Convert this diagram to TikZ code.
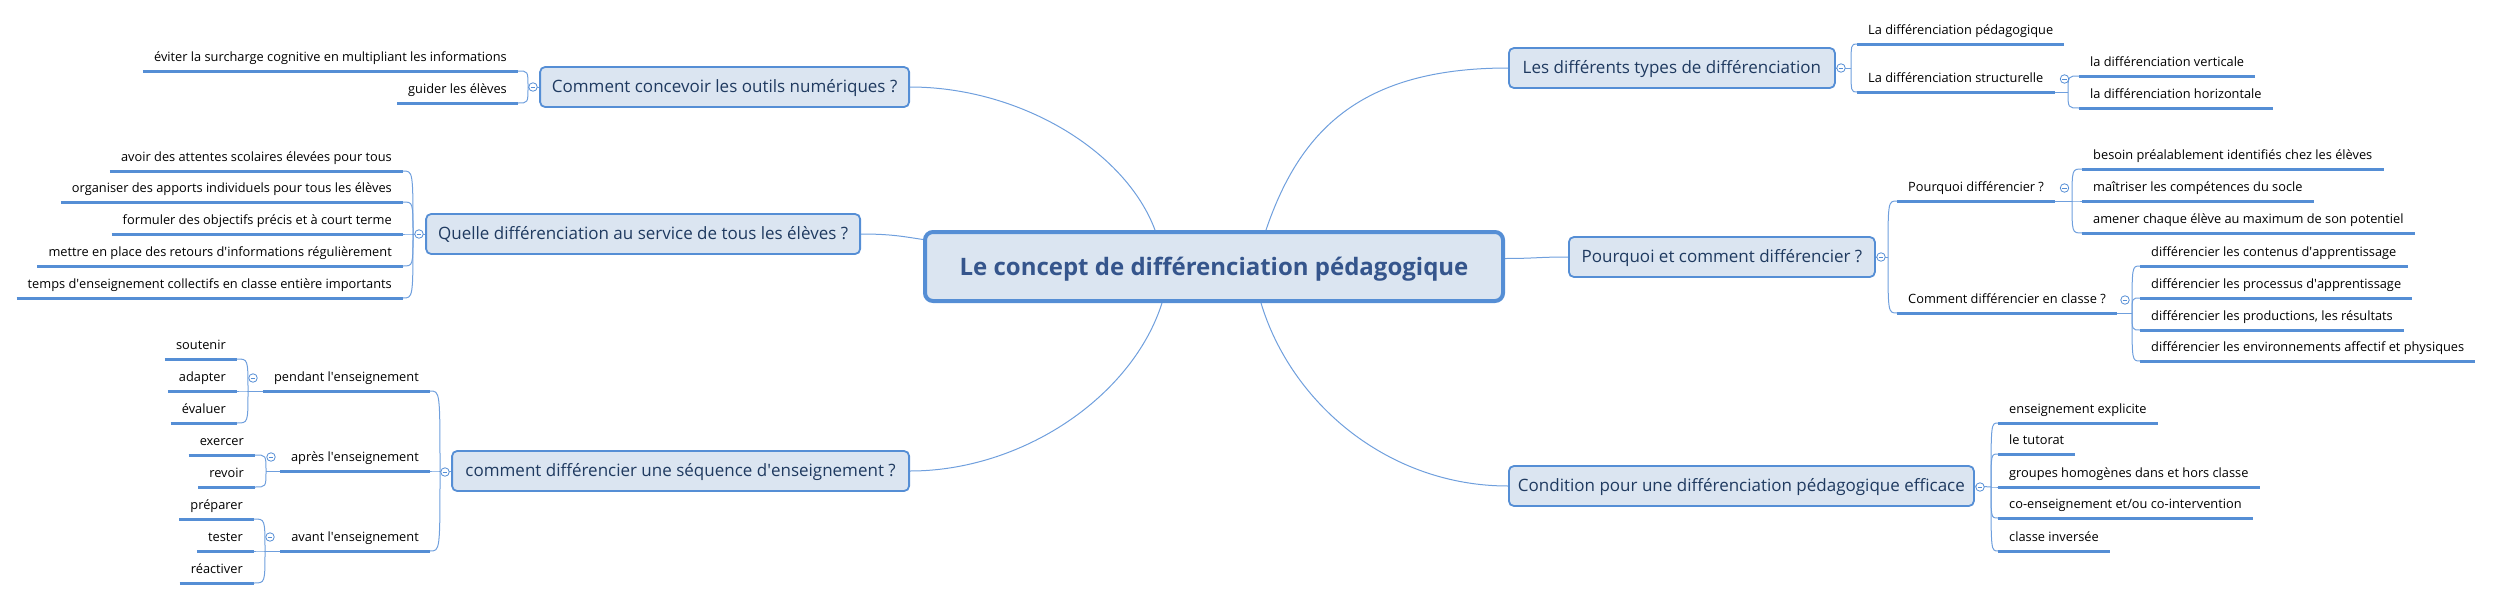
\documentclass[tikz,border=0pt]{standalone}
\usepackage{fontspec}
\setmainfont{Open Sans}
\usetikzlibrary{backgrounds}

\definecolor{mapblue}{HTML}{558ED5}
\definecolor{mapfill}{HTML}{DBE5F1}
\definecolor{mapline}{HTML}{6F9FDD}
\definecolor{roottext}{HTML}{35558C}
\definecolor{topictext}{HTML}{1F3A60}

\newcommand{\leaffont}{\fontsize{12.8}{15}\selectfont}
\newcommand{\topicfont}{\fontsize{17}{20}\selectfont}
\newcommand{\rootfont}{\fontsize{24}{28}\selectfont\bfseries}
\newcommand{\apos}{\textquotesingle}

\tikzset{
  rootbox/.style={draw=mapblue, line width=4pt, fill=mapfill, rounded corners=8pt,
    minimum width=578pt, minimum height=69pt, font=\rootfont, text=roottext,
    text height=17pt, text depth=0pt},
  topicbox/.style={draw=mapblue, line width=1.8pt, fill=mapfill, rounded corners=5pt,
    minimum height=40pt, inner xsep=6pt, font=\topicfont, text=topictext,
    text height=11.5pt, text depth=0pt},
  leaf/.style={font=\leaffont, inner xsep=11pt, inner ysep=6pt,
    text height=9.5pt, text depth=3.5pt},
  uline/.style={mapblue, line width=3pt},
  branch/.style={mapline, line width=1pt},
  knob/.style={circle, draw=mapblue, fill=white, line width=0.8pt, minimum size=8.5pt,
    inner sep=0pt, path picture={\draw[mapblue, line width=0.8pt]
      ([xshift=-2.4pt]path picture bounding box.center) --
      ([xshift=2.4pt]path picture bounding box.center);}}
}

\begin{document}
\begin{tikzpicture}[x=1pt,y=-1pt]
\useasboundingbox (0,0) rectangle (2495,600);

% centre
\node[rootbox] (root) at (1214,266.5) {Le concept de différenciation pédagogique};

% branches gauche
\node[topicbox, minimum width=369pt, anchor=east] (b1) at (910,87) {Comment concevoir les outils numériques ?};
\node[topicbox, minimum width=434pt, anchor=east] (b2) at (861,234) {Quelle différenciation au service de tous les élèves ?};
\node[topicbox, minimum width=457pt, anchor=east] (b3) at (910,471) {comment différencier une séquence d\apos enseignement ?};

% branches droite
\node[topicbox, minimum width=326pt, anchor=west] (b4) at (1508,68) {Les différents types de différenciation};
\node[topicbox, minimum width=306pt, anchor=west] (b5) at (1568,257) {Pourquoi et comment différencier ?};
\node[topicbox, minimum width=465pt, anchor=west] (b6) at (1508,486) {Condition pour une différenciation pédagogique efficace};

% outils numeriques
\node[leaf, anchor=south east] (c1) at (518,71) {éviter la surcharge cognitive en multipliant les informations};
\node[leaf, anchor=south east] (c2) at (518,103) {guider les élèves};

% service de tous les eleves
\node[leaf, anchor=south east] (q1) at (403,171) {avoir des attentes scolaires élevées pour tous};
\node[leaf, anchor=south east] (q2) at (403,202) {organiser des apports individuels pour tous les élèves};
\node[leaf, anchor=south east] (q3) at (403,234) {formuler des objectifs précis et à court terme};
\node[leaf, anchor=south east] (q4) at (403,266) {mettre en place des retours d\apos informations régulièrement};
\node[leaf, anchor=south east] (q5) at (403,298) {temps d\apos enseignement collectifs en classe entière importants};

% sequence d'enseignement
\node[leaf, anchor=south east] (s1) at (430,391) {pendant l\apos enseignement};
\node[leaf, anchor=south east] (s2) at (430,471) {après l\apos enseignement};
\node[leaf, anchor=south east] (s3) at (430,551) {avant l\apos enseignement};
\node[leaf, anchor=south east] (p1) at (237,359) {soutenir};
\node[leaf, anchor=south east] (p2) at (237,391) {adapter};
\node[leaf, anchor=south east] (p3) at (237,423) {évaluer};
\node[leaf, anchor=south east] (a1) at (255,455) {exercer};
\node[leaf, anchor=south east] (a2) at (255,487) {revoir};
\node[leaf, anchor=south east] (v1) at (254,519) {préparer};
\node[leaf, anchor=south east] (v2) at (254,551) {tester};
\node[leaf, anchor=south east] (v3) at (254,583) {réactiver};

% types de differenciation
\node[leaf, anchor=south west] (d1) at (1857,44) {La différenciation pédagogique};
\node[leaf, anchor=south west] (d2) at (1857,92) {La différenciation structurelle};
\node[leaf, anchor=south west] (d21) at (2079,76) {la différenciation verticale};
\node[leaf, anchor=south west] (d22) at (2079,108) {la différenciation horizontale};

% pourquoi et comment
\node[leaf, anchor=south west] (w1) at (1897,201) {Pourquoi différencier ?};
\node[leaf, anchor=south west] (w2) at (1897,313) {Comment différencier en classe ?};
\node[leaf, anchor=south west] (w11) at (2082,169) {besoin préalablement identifiés chez les élèves};
\node[leaf, anchor=south west] (w12) at (2082,201) {maîtriser les compétences du socle};
\node[leaf, anchor=south west] (w13) at (2082,233) {amener chaque élève au maximum de son potentiel};
\node[leaf, anchor=south west] (w21) at (2140,266) {différencier les contenus d\apos apprentissage};
\node[leaf, anchor=south west] (w22) at (2140,298) {différencier les processus d\apos apprentissage};
\node[leaf, anchor=south west] (w23) at (2140,330) {différencier les productions, les résultats};
\node[leaf, anchor=south west] (w24) at (2140,361) {différencier les environnements affectif et physiques};

% conditions
\node[leaf, anchor=south west] (e1) at (1998,423) {enseignement explicite};
\node[leaf, anchor=south west] (e2) at (1998,454) {le tutorat};
\node[leaf, anchor=south west] (e3) at (1998,487) {groupes homogènes dans et hors classe};
\node[leaf, anchor=south west] (e4) at (1998,518) {co-enseignement et/ou co-intervention};
\node[leaf, anchor=south west] (e5) at (1998,551) {classe inversée};

% points de jonction des accolades
\coordinate (jc) at (528,87);
\coordinate (jq) at (413,234);
\coordinate (js) at (440,471);
\coordinate (jp) at (248,391);
\coordinate (ja) at (266,471);
\coordinate (jv) at (265,551);
\coordinate (jd) at (1851,68);
\coordinate (jd2) at (2068,92);
\coordinate (jw) at (1888,257);
\coordinate (jw1) at (2072,201);
\coordinate (jw2) at (2132,313);
\coordinate (je) at (1991,487);

\begin{scope}[on background layer]
% courbes depuis le centre
\draw[branch] ([xshift=-59pt]root.north) .. controls +(-30,-80) and +(109,0) .. (b1.east);
\draw[branch] (b2.east) .. controls +(30,0) and +(-20,-3) .. ([yshift=27pt]root.west);
\draw[branch] ([xshift=-52pt]root.south) .. controls +(-30,94) and +(112,0) .. (b3.east);
\draw[branch] ([xshift=52pt]root.north) .. controls +(34,-100) and +(-147,0) .. (b4.west);
\draw[branch] ([yshift=8pt]root.east) .. controls +(30,0) and +(-30,0) .. (b5.west);
\draw[branch] ([xshift=47pt]root.south) .. controls +(30,100) and +(-120,0) .. (b6.west);

% vers les jonctions
\draw[branch] (b1.west) -- (jc);
\draw[branch] (b2.west) -- (jq);
\draw[branch] (b3.west) -- (js);
\draw[branch] (s1.south west) -- (jp);
\draw[branch] (s2.south west) -- (ja);
\draw[branch] (s3.south west) -- (jv);
\draw[branch] (b4.east) -- (jd);
\draw[branch] (d2.south east) -- (jd2);
\draw[branch] (b5.east) -- (jw);
\draw[branch] (w1.south east) -- (jw1);
\draw[branch] (w2.south east) -- (jw2);
\draw[branch] (b6.east) -- (je);
\end{scope}

% accolades gauche
\foreach \j/\n in {jc/c1,jc/c2,jq/q1,jq/q2,jq/q3,jq/q4,jq/q5,js/s1,js/s2,js/s3,
                   jp/p1,jp/p2,jp/p3,ja/a1,ja/a2,jv/v1,jv/v2,jv/v3}
  \draw[branch] (\j) .. controls (\j |- \n.south east) .. (\n.south east);

% accolades droite
\foreach \j/\n in {jd/d1,jd/d2,jd2/d21,jd2/d22,jw/w1,jw/w2,jw1/w11,jw1/w12,jw1/w13,
                   jw2/w21,jw2/w22,jw2/w23,jw2/w24,je/e1,je/e2,je/e3,je/e4,je/e5}
  \draw[branch] (\j) .. controls (\j |- \n.south west) .. (\n.south west);

% soulignements
\foreach \n in {c1,c2,q1,q2,q3,q4,q5,s1,s2,s3,p1,p2,p3,a1,a2,v1,v2,v3,
                d1,d2,d21,d22,w1,w2,w11,w12,w13,w21,w22,w23,w24,e1,e2,e3,e4,e5}
  \draw[uline] (\n.south west) -- (\n.south east);

% boutons de repli
\node[knob] (kc) at (533,87) {};
\node[knob] (kq) at (419,234) {};
\node[knob] (ks) at (445,472) {};
\node[knob] (kp) at (253,378) {};
\node[knob] (ka) at (271,457) {};
\node[knob] (kv) at (270,537) {};
\node[knob] (kd) at (1841,68) {};
\node[knob] (kd2) at (2064.5,79) {};
\node[knob] (kw) at (1881,257) {};
\node[knob] (kw1) at (2064.5,188) {};
\node[knob] (kw2) at (2125,300) {};
\node[knob] (ke) at (1980,487) {};

\end{tikzpicture}
\end{document}
